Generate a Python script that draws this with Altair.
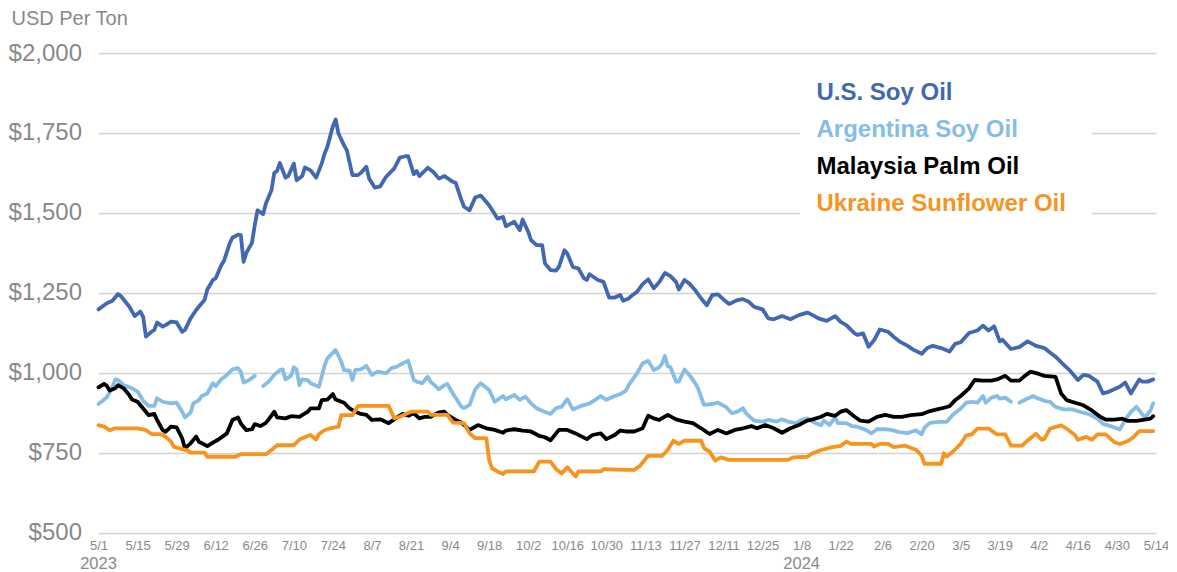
import altair as alt
import pandas as pd

START = "2023-05-01"

us_days = [0,3,5,7,8,11,13,15,16,17,19,20,21,23,24,26,28,30,31,33,35,37,38,39,41,42,44,45,47,48,50,51,52,53,55,56,57,59,60,62,63,64,65,67,68,70,71,73,74,76,78,80,81,82,84,85,86,88,89,91,93,94,96,97,99,101,103,106,108,110,111,113,114,115,118,120,122,124,127,128,130,131,133,135,137,140,143,145,146,149,151,152,154,155,157,159,160,162,164,165,167,168,170,172,174,175,176,179,181,183,185,187,188,190,191,193,195,197,199,201,203,205,207,208,210,212,214,216,218,220,222,224,226,229,231,233,235,238,240,242,245,248,251,254,256,258,261,264,266,268,271,272,274,276,278,280,283,285,287,290,292,295,297,299,302,305,307,309,312,315,317,319,321,323,324,327,330,333,336,339,341,343,346,348,351,353,355,358,360,362,366,368,370,373,374,376,378]
us_vals = [1198,1217,1225,1246,1240,1207,1177,1191,1175,1113,1128,1134,1157,1144,1149,1160,1157,1128,1134,1170,1196,1217,1227,1260,1290,1295,1336,1350,1404,1422,1432,1430,1347,1375,1406,1461,1508,1496,1529,1571,1625,1631,1656,1610,1615,1654,1602,1615,1642,1633,1610,1654,1685,1706,1771,1792,1748,1711,1696,1618,1618,1625,1644,1607,1579,1583,1612,1639,1673,1677,1677,1621,1631,1615,1641,1628,1607,1615,1597,1594,1542,1519,1508,1548,1554,1524,1482,1487,1458,1472,1446,1479,1441,1415,1399,1399,1342,1321,1319,1331,1383,1373,1331,1326,1295,1290,1308,1290,1284,1235,1235,1243,1225,1232,1240,1253,1277,1292,1264,1284,1312,1302,1284,1260,1290,1277,1256,1232,1211,1243,1245,1229,1215,1227,1230,1222,1206,1198,1170,1167,1177,1167,1180,1188,1180,1170,1162,1177,1159,1149,1123,1118,1123,1081,1102,1135,1128,1112,1098,1084,1072,1059,1077,1084,1077,1066,1090,1095,1124,1132,1147,1132,1145,1098,1103,1074,1080,1098,1084,1077,1063,1050,1024,1008,977,993,990,972,935,940,956,969,935,979,972,972,979]

arg_days = [0,3,5,6,7,9,12,14,16,18,20,21,23,26,28,30,31,33,34,36,37,39,41,42,44,46,48,50,51,52,54,56,57.5,59,61,63,65,66,67,69,70,71,72,73,75,76,79,81,82,85,87,88,90,91,92,94,96,98,100,103,105,107,109,111,113,114,116,118,119,122,124,125,127,130,131,133,135,137,140,142,145,146,149,151,153,155,157,159,162,164,166,168,170,173,176,178,180,182,185,187,189,190,193,195,197,199,201,202,203,204,205,207,208,210,212,214,215,217,220,222,225,227,229,231,232,235,238,240,243,245,247,250,252,254,257,259,260,262,264,265,268,270,272,275,277,279,282,284,287,290,293,295,296,298,301,304,306,309,311,313,315,317,318,320,322,323,325,327,328.5,330,333,335,336,339,341,343,346,349,352,355,358,360,363,366,368,370,372,374,375,377,378]
arg_vals = [902,923,954,979,977,961,951,941,912,896,896,920,909,904,906,878,860,875,904,914,927,935,967,958,979,993,1010,1014,1003,969,977,990,None,958,972,993,1008,1010,979,990,1017,1010,961,979,977,967,956,1021,1045,1071,1034,1008,1006,977,1008,1010,1021,993,1003,998,1014,1019,1029,1037,977,972,967,987,972,948,961,965,935,894,889,899,948,967,946,909,927,917,930,915,925,904,889,881,871,889,894,917,885,896,904,915,927,915,927,933,944,961,998,1029,1037,1008,1017,1029,1052,1021,1017,972,972,1010,990,965,948,899,902,906,892,873,878,889,873,850,847,852,847,854,847,842,852,857,842,836,850,836,860,842,842,833,831,821,810,823,823,821,814,811,820,807,828,843,846,846,867,888,906,909,906,927,906,922,927,919,922,909,None,906,919,927,922,912,909,893,885,885,877,870,856,840,832,822,853,877,893,870,859,882,904]

mal_days = [0,2,3,4,6,7,9,11,12,14,16,18,20,21,23,24,26,28,30,31,33,35,36,39,41,43,46,48,50,51,53,55,56,58,60,61,63,64,67,69,72,75,76,79,80,82,84,85,88,90,92,94,96,98,101,104,107,109,111,113,115,117,119,122,124,125,128,130,133,136,139,142,145,146,149,152,155,158,160,162,165,168,171,175,177,180,182,185,187,189,192,195,197,199,201,204,207,210,213,216,219,222,225,228,231,234,236,239,242,245,248,251,254,256,259,261,264,266,268,271,273,276,279,282,285,288,291,295,298,302,305,307,309,312,314,317,320,322,325,327,330,332,334,337,339,343,345,347,350,353,356,359,361,364,367,369,372,375,377,378]
mal_vals = [954,965,958,944,951,961,951,930,916,909,888,867,871,852,820,815,831,829,794,763,779,800,784,770,781,791,810,852,860,841,820,823,839,833,843,854,878,860,857,864,862,878,888,888,914,916,933,916,906,888,878,871,868,852,854,842,860,871,865,873,857,862,862,876,878,868,852,844,821,836,826,821,812,819,823,819,816,802,798,788,821,821,810,792,805,810,792,805,819,816,816,826,865,857,852,868,854,847,842,826,808,821,810,821,826,833,826,836,826,812,826,836,850,854,862,871,865,878,883,862,850,847,862,868,862,862,867,870,880,888,895,914,927,951,977,975,975,979,990,975,975,990,1003,996,990,987,935,914,906,898,882,862,853,853,856,849,849,853,856,864]

ukr_days = [0,2,4,6,14,17,19,22,24,26,27,29,32,33,38,39,49,51,60,62,64,70,72,75,76,78,79,81,83,86,87,91,93,104,106,108,112,118,119,125,127,131,133,135,139,140,141,143,145,146,156,158,162,164,166,168,171,172,180,181,189,192,194,197,202,204,206,208,210,216,217,219,221,223,226,247,249,254,256,259,263,266,268,270,277,278,280,283,285,289,291,293,295,296,302,303,304,306,309,311,313,315,319,322,325,327,331,333,336,338,339,341,345,347,350,351,354,356,358,361,364,366,369,371,373,378]
ukr_vals = [836,831,820,826,826,820,808,808,800,784,768,763,756,750,750,737,737,745,745,758,773,773,791,802,805,791,808,820,826,831,867,867,896,896,857,862,878,878,868,868,844,842,810,795,795,727,701,691,683,691,691,722,722,698,685,704,675,691,691,698,696,696,708,740,740,758,787,777,787,787,764,753,725,735,727,727,735,737,748,758,767,771,784,777,777,769,777,777,767,772,765,759,741,715,715,748,738,751,777,804,807,825,825,807,807,772,772,788,809,790,793,825,835,825,804,790,799,790,807,807,783,777,786,799,817,817]

series_names = ["U.S. Soy Oil", "Argentina Soy Oil", "Malaysia Palm Oil", "Ukraine Sunflower Oil"]
series_colors = ["#4168B1", "#85BDE6", "#000000", "#F7941D"]

tick_dates = ["2023-05-01","2023-05-15","2023-05-29","2023-06-12","2023-06-26","2023-07-10","2023-07-24",
              "2023-08-07","2023-08-21","2023-09-04","2023-09-18","2023-10-02","2023-10-16","2023-10-30",
              "2023-11-13","2023-11-27","2023-12-11","2023-12-25","2024-01-08","2024-01-22","2024-02-06",
              "2024-02-20","2024-03-05","2024-03-19","2024-04-02","2024-04-16","2024-04-30","2024-05-14"]
year_dates = ["2023-05-01", "2024-01-08"]
year_labels = ["2023", "2024"]
y_ticks = [500, 750, 1000, 1250, 1500, 1750, 2000]
unit_label = "USD Per Ton"

# ---- build table ----
rows = []
start = pd.Timestamp(START)
for name, days, vals in zip(series_names,
                            [us_days, arg_days, mal_days, ukr_days],
                            [us_vals, arg_vals, mal_vals, ukr_vals]):
    seg = 0
    for d, v in zip(days, vals):
        if v is None:
            seg += 1
            continue
        rows.append({"date": (start + pd.Timedelta(days=d)).strftime("%Y-%m-%dT%H:%M:%S"),
                     "value": v, "series": name, "seg": f"{name}-{seg}"})
df = pd.DataFrame(rows)


def dt(s):
    t = pd.Timestamp(s)
    return alt.DateTime(year=t.year, month=t.month, date=t.day)


W, H = 1057.5, 479.5
GRAY = "#898989"
FONT = "Liberation Sans"

x_scale = alt.Scale(domain=[dt(tick_dates[0]), dt(tick_dates[-1])])
x_axis = alt.Axis(values=[dt(s) for s in tick_dates], labelExpr="timeFormat(datum.value, '%-m/%-d')",
                  title=None, grid=False, ticks=False, tickSize=0, domain=False,
                  labelFontSize=13, labelColor=GRAY, labelFont=FONT, labelPadding=7,
                  labelFlush=False, labelOverlap=False, labelBound=False)

lines = alt.Chart(df).mark_line(strokeWidth=3.8, strokeJoin="round", strokeCap="round").encode(
    x=alt.X("date:T", scale=x_scale, axis=x_axis),
    y=alt.Y("value:Q", scale=alt.Scale(domain=[500, 2000], nice=False, zero=False),
            axis=alt.Axis(values=y_ticks, format="$,.0f", title=None,
                          labelFontSize=24, labelColor=GRAY, labelFont=FONT, labelPadding=17,
                          grid=True, gridColor="#d2d2d2", gridWidth=1.5,
                          ticks=False, tickSize=0, domain=False)),
    color=alt.Color("series:N", scale=alt.Scale(domain=series_names, range=series_colors), legend=None),
    detail="seg:N",
)

years_df = pd.DataFrame({"date": [pd.Timestamp(s).strftime("%Y-%m-%dT%H:%M:%S") for s in year_dates],
                         "label": year_labels})
years = alt.Chart(years_df).mark_text(fontSize=16.5, color=GRAY, font=FONT, baseline="middle", align="center").encode(
    x=alt.X("date:T", scale=x_scale, axis=x_axis), y=alt.value(H + 31), text="label:N")

unit = alt.Chart(pd.DataFrame({"t": [unit_label]})).mark_text(
    fontSize=20, color=GRAY, font=FONT, align="left", baseline="middle"
).encode(x=alt.value(-87), y=alt.value(-34.5), text="t:N")

legend_bg = alt.Chart(pd.DataFrame({"a": [0]})).mark_rect(color="white").encode(
    x=alt.value(701.5), x2=alt.value(993.5), y=alt.value(17), y2=alt.value(167))

legend_layers = []
for i, (name, col) in enumerate(zip(series_names, series_colors)):
    legend_layers.append(
        alt.Chart(pd.DataFrame({"t": [name]})).mark_text(
            fontSize=24, fontWeight="bold", font=FONT, color=col, align="left", baseline="alphabetic"
        ).encode(x=alt.value(718), y=alt.value(46.5 + i * 37), text="t:N")
    )

chart = alt.layer(lines, years, unit, legend_bg, *legend_layers).properties(
    width=W, height=H,
    background="white",
    padding={"left": 90.5, "top": 45, "right": 12, "bottom": 38},
    autosize=alt.AutoSizeParams(type="none"),
).configure_view(stroke=None)

chart.save("out.html", embed_options={"renderer": "svg", "actions": False})
